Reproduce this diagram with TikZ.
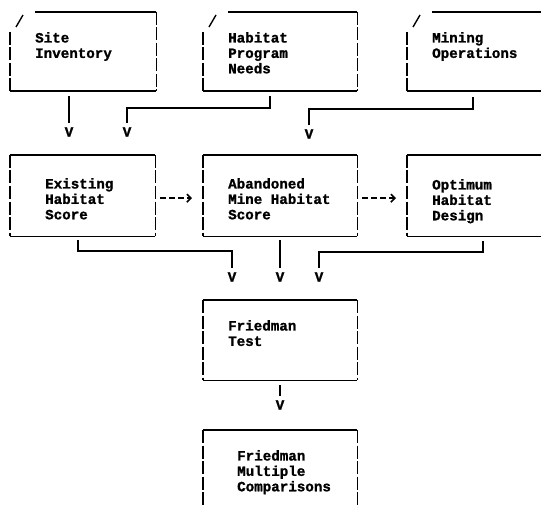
\documentclass[tikz,border=0pt]{standalone}
\usepackage{fontspec}
\setmonofont[BoldFeatures={FakeBold=1.2}]{Liberation Mono}
\usetikzlibrary{arrows.meta, calc, positioning}

\begin{document}
\begin{tikzpicture}[x=1pt, y=-1pt, >={Straight Barb[length=4pt, width=8pt]},
  font=\ttfamily\bfseries\fontsize{14.2}{15.4}\selectfont,
  frame/.style={anchor=north west, inner sep=0pt, minimum height=#1},
  txt/.style={anchor=north west, inner sep=0pt, align=left},
  tip/.style={inner sep=0pt},
  rule/.style={line width=1.8pt},
  side/.style={line width=1.8pt, dash pattern=on 13pt off 2.5pt},
  link/.style={line width=1.8pt},
  flow/.style={line width=1.6pt, dash pattern=on 6pt off 3pt, ->, shorten <=5pt, shorten >=11pt}]
  \clip (0,0) rectangle (541,508);

  \node[frame=79pt, minimum width=146pt] (site) at (10,12) {};
  \node[frame=79pt, minimum width=154pt] (needs) at (203,12) {};
  \node[frame=79pt, minimum width=160pt] (mining) at (407,12) {};
  \node[frame=81pt, minimum width=145pt] (existing) at (10,155) {};
  \node[frame=81pt, minimum width=154pt] (abandoned) at (203,155) {};
  \node[frame=81pt, minimum width=160pt] (optimum) at (407,155) {};
  \node[frame=80pt, minimum width=154pt] (friedman) at (203,300) {};
  \node[frame=100pt, minimum width=154pt] (multiple) at (203,430) {};

  \foreach \n in {site, needs, mining} {
    \draw[rule] ([xshift=25pt]\n.north west) -- (\n.north east);
    \draw[rule] (\n.south west) -- (\n.south east);
    \draw[side] ([yshift=-20pt]\n.north west) -- (\n.south west);
    \draw[side] (\n.north east) -- (\n.south east);
    \draw[line width=1.4pt] ([shift={(6pt,-15pt)}]\n.north west) -- ([shift={(13pt,-3pt)}]\n.north west);
  }
  \foreach \n in {existing, abandoned, optimum, friedman, multiple} {
    \draw[rule] (\n.north west) -- (\n.north east);
    \draw[rule] (\n.south west) -- (\n.south east);
    \draw[side] (\n.north west) -- (\n.south west);
    \draw[side] (\n.north east) -- (\n.south east);
  }

  \node[txt] (site-t) at ($(site.north west)+(25,20)$) {Site\\Inventory};
  \node[txt] (needs-t) at ($(needs.north west)+(25,20)$) {Habitat\\Program\\Needs};
  \node[txt] (mining-t) at ($(mining.north west)+(25,20)$) {Mining\\Operations};
  \node[txt] (existing-t) at ($(existing.north west)+(35,23)$) {Existing\\Habitat\\Score};
  \node[txt] (abandoned-t) at ($(abandoned.north west)+(25,23)$) {Abandoned\\Mine Habitat\\Score};
  \node[txt] (optimum-t) at ($(optimum.north west)+(25,24)$) {Optimum\\Habitat\\Design};
  \node[txt] (friedman-t) at ($(friedman.north west)+(25,20)$) {Friedman\\Test};
  \node[txt] (multiple-t) at ($(multiple.north west)+(34,20)$) {Friedman\\Multiple\\Comparisons};

  \foreach \n/\x/\y in {v1/69/132, v2/127/132, v3/309/134, v4/232/277, v5/280/277, v6/319/277, v7/280/405} {
    \node[tip] (\n) at (\x,\y) {V};
  }

  \draw[link] ($(site.south -| v1)+(0,5)$) -- ($(v1.north)+(0,-4)$);
  \draw[link] ($(needs.south)+(-10,5)$) |- ($(v2.north)+(0,-19)$) -- ($(v2.north)+(0,-4)$);
  \draw[link] ($(mining.south west)+(66,6)$) |- ($(v3.north)+(0,-20)$) -- ($(v3.north)+(0,-4)$);
  \draw[link] ($(existing.south west)+(68,4)$) |- ($(v4.north)+(0,-21)$) -- ($(v4.north)+(0,-4)$);
  \draw[link] ($(abandoned.south -| v5)+(0,4)$) -- ($(v5.north)+(0,-4)$);
  \draw[link] ($(optimum.south west)+(76,5)$) |- ($(v6.north)+(0,-20)$) -- ($(v6.north)+(0,-4)$);
  \draw[link] ($(friedman.south -| v7)+(0,5)$) -- ($(v7.north)+(0,-4)$);

  \draw[flow] ([yshift=-2.5pt]existing.east) -- ([yshift=-2.5pt]abandoned.west);
  \draw[flow] ([yshift=-2.5pt]abandoned.east) -- ([yshift=-2.5pt]optimum.west);
\end{tikzpicture}
\end{document}
